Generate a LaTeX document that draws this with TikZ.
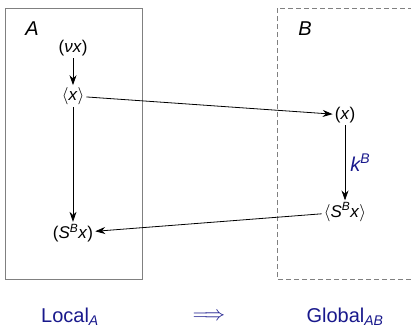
\documentclass[tikz,border=0pt]{standalone}
\usepackage{fontspec}
\setmainfont{Liberation Sans}
\usetikzlibrary{arrows.meta}
\definecolor{navy}{RGB}{25,25,140}
\definecolor{boxgray}{RGB}{128,128,128}
\begin{document}
\begin{tikzpicture}[x=1pt,y=-1pt,
  term/.style={font=\fontsize{17}{20}\selectfont, inner sep=2pt},
  title/.style={font=\fontsize{20}{24}\selectfont\itshape, inner sep=0pt},
  caption/.style={font=\fontsize{20}{24}\selectfont, text=navy, inner sep=0pt},
  arr/.style={-{Stealth[length=10pt,width=7pt]}, line width=0.8pt},
  frame/.style={draw=boxgray, line width=0.8pt}]
\useasboundingbox (0,0) rectangle (411,330);
% boxes
\draw[frame] (5,8) rectangle (142,279);
\draw[frame, dash pattern=on 5pt off 3pt] (411,279) -- (277,279) -- (277,8) -- (411,8);
\node[title] (la) at (32,29) {A};
\node[title] (lb) at (305,29) {B};
% terms
\node[term] (nu) at (73,48) {(\textit{νx})};
\node[term] (ax) at (73,96) {$\langle$\textit{x}$\rangle$};
\node[term] (sb) at (73,233) {(\textit{S}\textsuperscript{\textit{B}}\textit{x})};
\node[term] (px) at (345,115) {(\textit{x})};
\node[term] (asb) at (345,212) {$\langle$\textit{S}\textsuperscript{\textit{B}}\textit{x}$\rangle$};
% arrows
\draw[arr] (nu) -- (ax);
\draw[arr] (ax) -- (sb);
\draw[arr] (ax) -- (px);
\draw[arr] (px) -- node[right, caption, font=\fontsize{20}{24}\selectfont\itshape, xshift=5pt] (kb) {k\textsuperscript{B}} (asb);
\draw[arr] (asb) -- (sb);
% captions
\node[caption] (loc) at (70,317) {Local\textsubscript{\textit{A}}};
\node[caption] (imp) at (209,317) {$\Longrightarrow$};
\node[caption] (glob) at (345,317) {Global\textsubscript{\textit{AB}}};
\end{tikzpicture}
\end{document}
